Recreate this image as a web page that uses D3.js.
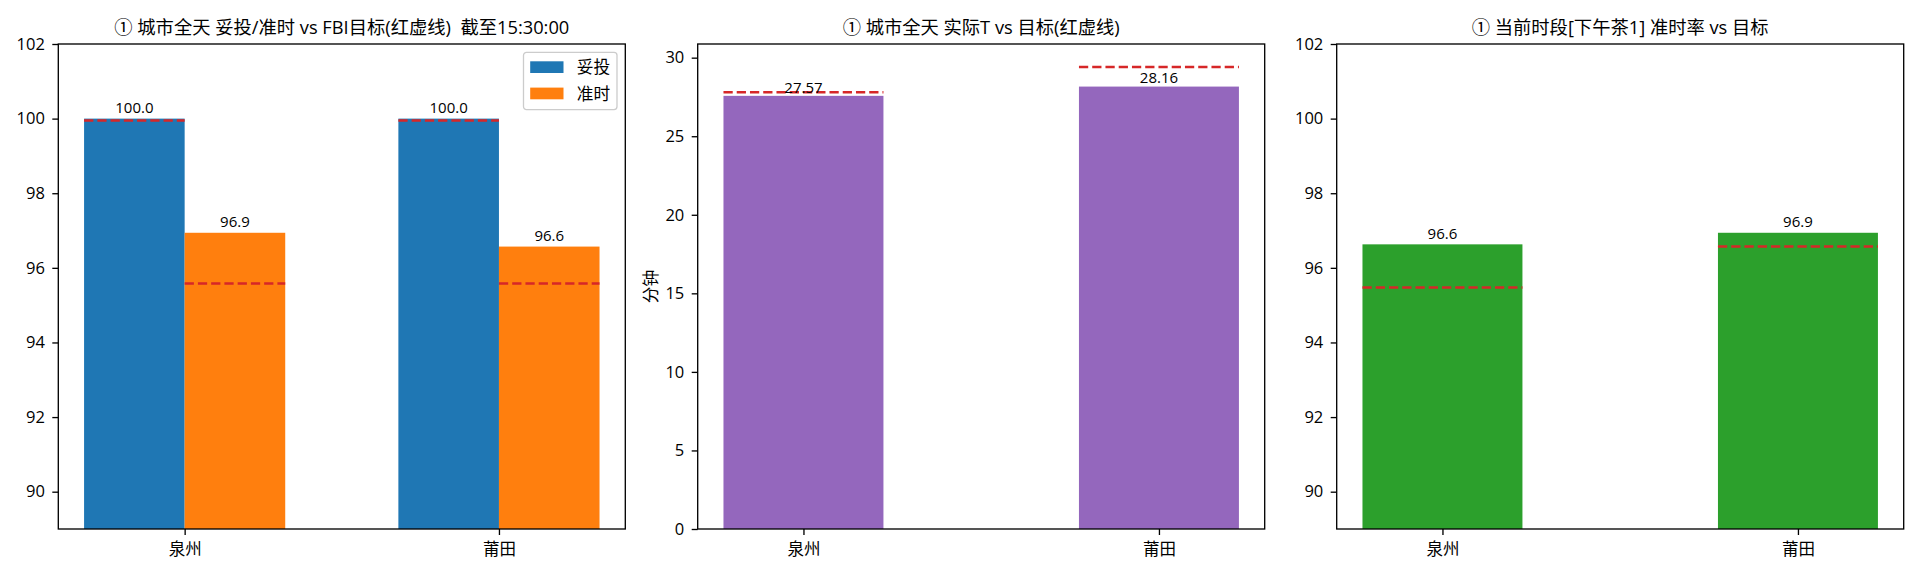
<!DOCTYPE html>
<html>
<head>
<meta charset="utf-8">
<script src="https://cdn.jsdelivr.net/npm/d3@7"></script>
<style>
  body { margin: 0; background: #fff; }
  text { font-family: "Open Sans", "Noto Sans CJK SC", sans-serif; fill: #000; }
</style>
</head>
<body>
<svg id="chart" width="1920" height="576"></svg>
<script>
// data
var cities = ["泉州", "莆田"];
var deliverRate = [100.0, 100.0];      // 妥投
var ontimeRate = [96.94, 96.57];       // 准时
var deliverTarget = [99.95, 99.95];
var ontimeTarget = [95.58, 95.58];
var actualT = [27.57, 28.16];
var targetT = [27.8, 29.4];
var periodRate = [96.63, 96.94];
var periodTarget = [95.47, 96.57];
var rateTicks = [90, 92, 94, 96, 98, 100, 102];
var minuteTicks = [0, 5, 10, 15, 20, 25, 30];
var legendLabels = ["妥投", "准时"];
var titles = [
  "① 城市全天 妥投/准时 vs FBI目标(红虚线)  截至15:30:00",
  "① 城市全天 实际T vs 目标(红虚线)",
  "① 当前时段[下午茶1] 准时率 vs 目标"
];

var svg = d3.select("#chart");
var plotTop = 44, plotBottom = 529, panelW = 567;
var red = "#d62728";

function makePanel(left, title, yDomain, ticks, halfExtent) {
  var right = left + panelW;
  var pad = 0.05 * (1 + 2 * halfExtent);
  var x = d3.scaleLinear()
      .domain([-halfExtent - pad, 1 + halfExtent + pad])
      .range([left, right]);
  var y = d3.scaleLinear().domain(yDomain).range([plotBottom, plotTop]);
  var g = svg.append("g");

  g.append("g")
      .attr("transform", "translate(0," + plotBottom + ")")
      .call(d3.axisBottom(x).tickValues([0, 1]).tickFormat(function(d) { return cities[d]; })
        .tickSize(6).tickPadding(8))
      .attr("class", "xax");
  g.append("g")
      .attr("transform", "translate(" + left + ",0)")
      .call(d3.axisLeft(y).tickValues(ticks).tickSize(6).tickPadding(7.4))
      .attr("class", "yax");

  g.append("text")
      .attr("x", (left + right) / 2)
      .attr("y", 34)
      .attr("text-anchor", "middle")
      .style("font-size", "18.3px")
      .style("white-space", "pre")
      .text(title);

  return { g: g, x: x, y: y, left: left, right: right };
}

function drawBars(p, values, offset, w, color) {
  p.g.selectAll(null)
      .data(values)
      .enter().append("rect")
      .attr("x", function(d, i) { return p.x(i + offset - w / 2); })
      .attr("width", function() { return p.x(w) - p.x(0); })
      .attr("y", function(d) { return p.y(d); })
      .attr("height", function(d) { return p.y.range()[0] - p.y(d); })
      .attr("fill", color);
}

function drawTargets(p, values, offset, w) {
  p.g.selectAll(null)
      .data(values)
      .enter().append("line")
      .attr("x1", function(d, i) { return p.x(i + offset - w / 2); })
      .attr("x2", function(d, i) { return p.x(i + offset + w / 2); })
      .attr("y1", function(d) { return p.y(d); })
      .attr("y2", function(d) { return p.y(d); })
      .attr("stroke", red)
      .attr("stroke-width", 2.5)
      .attr("stroke-dasharray", "9.25,4");
}

function drawLabels(p, values, offset, digits, lift) {
  p.g.selectAll(null)
      .data(values)
      .enter().append("text")
      .attr("x", function(d, i) { return p.x(i + offset); })
      .attr("y", function(d) { return p.y(d + lift); })
      .attr("text-anchor", "middle")
      .style("font-size", "15px")
      .text(function(d) { return d.toFixed(digits); });
}

// panel 1: grouped bars
var w1 = 0.32;
var p1 = makePanel(58.3, titles[0], [89, 102], rateTicks, w1);
drawBars(p1, deliverRate, -w1 / 2, w1, "#1f77b4");
drawBars(p1, ontimeRate, w1 / 2, w1, "#ff7f0e");
drawTargets(p1, deliverTarget, -w1 / 2, w1);
drawTargets(p1, ontimeTarget, w1 / 2, w1);
drawLabels(p1, deliverRate, -w1 / 2, 1, 0.15);
drawLabels(p1, ontimeRate, w1 / 2, 1, 0.15);

// legend
var legendW = 93.5, legendH = 57.3;
var lg = p1.g.append("g")
    .attr("transform", "translate(" + (p1.right - 8.3 - legendW) + "," + (plotTop + 8.3) + ")");
lg.append("rect")
    .attr("width", legendW).attr("height", legendH)
    .attr("rx", 3)
    .attr("fill", "#fff").attr("fill-opacity", 0.8)
    .attr("stroke", "#cccccc").attr("stroke-width", 1.3);
var legendColors = ["#1f77b4", "#ff7f0e"];
legendLabels.forEach(function(name, i) {
  lg.append("rect")
      .attr("x", 6.7).attr("y", 9 + i * 26.3)
      .attr("width", 33.3).attr("height", 11.7)
      .attr("fill", legendColors[i]);
  lg.append("text")
      .attr("x", 53.3).attr("y", 9 + i * 26.3 + 12)
      .style("font-size", "16.7px")
      .text(name);
});

// panel 2: minutes
var w2 = 0.45;
var maxT = d3.max(actualT.concat(targetT)) * 1.05;
var p2 = makePanel(697.7, titles[1], [0, maxT], minuteTicks, w2 / 2);
drawBars(p2, actualT, 0, w2, "#9467bd");
drawTargets(p2, targetT, 0, w2);
drawLabels(p2, actualT, 0, 2, 0.21);
p2.g.append("text")
    .attr("transform", "translate(657," + (plotTop + plotBottom) / 2 + ") rotate(-90)")
    .attr("text-anchor", "middle")
    .style("font-size", "16.7px")
    .text("分钟");

// panel 3: current period
var p3 = makePanel(1336.7, titles[2], [89, 102], rateTicks, w2 / 2);
drawBars(p3, periodRate, 0, w2, "#2ca02c");
drawTargets(p3, periodTarget, 0, w2);
drawLabels(p3, periodRate, 0, 1, 0.15);

// frames and axis styling like matplotlib
[p1, p2, p3].forEach(function(p) {
  p.g.append("rect")
      .attr("x", p.left).attr("y", plotTop)
      .attr("width", p.right - p.left).attr("height", plotBottom - plotTop)
      .attr("fill", "none").attr("stroke", "#000").attr("stroke-width", 1.33);
});
svg.selectAll(".domain").remove();
svg.selectAll(".tick line").attr("stroke", "#000").attr("stroke-width", 1.33);
svg.selectAll(".tick text").style("font-size", "16.5px").attr("fill", "#000");
</script>
</body>
</html>
